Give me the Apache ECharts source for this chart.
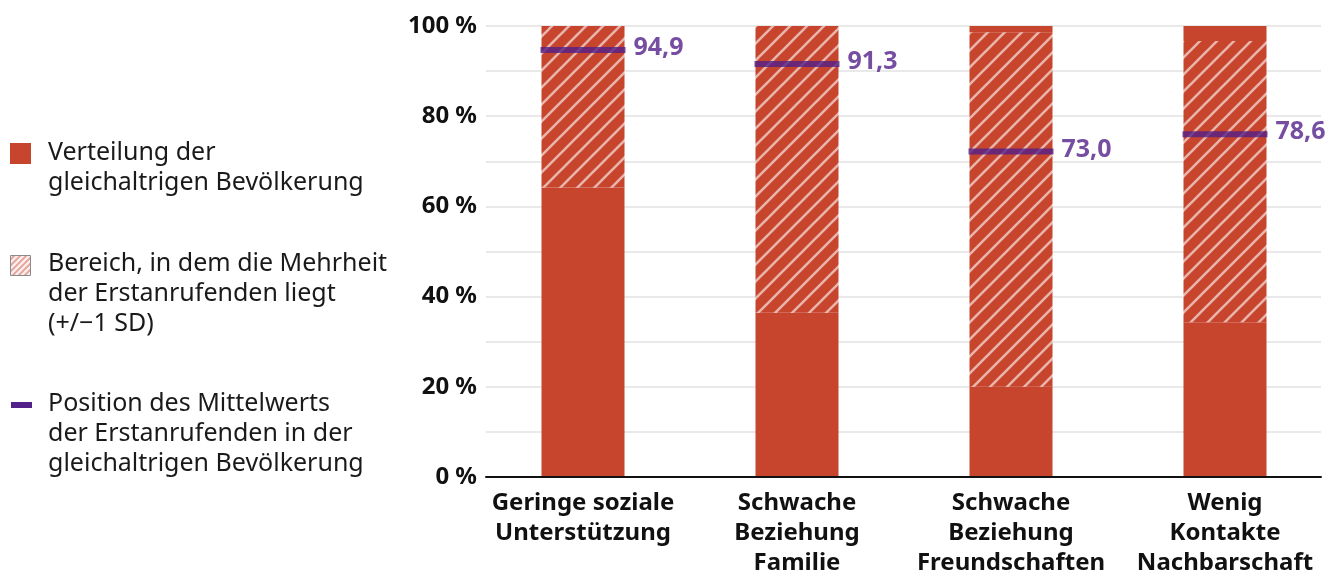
<!DOCTYPE html>
<html>
<head>
<meta charset="utf-8">
<script src="https://cdn.jsdelivr.net/npm/echarts@6/dist/echarts.min.js"></script>
<style>
body{margin:0;background:#fff}
#chart{width:1340px;height:578px}
</style>
</head>
<body>
<div id="chart"></div>
<script>
// Daten
var categories = ['Geringe soziale\nUnterstützung', 'Schwache\nBeziehung\nFamilie', 'Schwache\nBeziehung\nFreundschaften', 'Wenig\nKontakte\nNachbarschaft']
var sdLower = [64.2, 36.4, 20.0, 34.3]   // untere Grenze -1 SD
var sdUpper = [100, 100, 98.6, 96.7]     // obere Grenze +1 SD
var meanValues = [94.9, 91.3, 73.0, 78.6] // Beschriftung
var meanMarkPos = [94.7, 91.6, 72.2, 76.0] // wo der Strich in der Vorlage tatsaechlich sitzt
var legendTexts = [
  'Verteilung der\ngleichaltrigen Bevölkerung',
  'Bereich, in dem die Mehrheit\nder Erstanrufenden liegt\n(+/\u22121 SD)',
  'Position des Mittelwerts\nder Erstanrufenden in der\ngleichaltrigen Bevölkerung'
]

var RED = '#c7442d'
var PURPLE = '#52218a'
var FONT = '"Noto Sans", sans-serif'

// Schraffur fuer die Balken
function makeHatch(size, bg, stroke, lw) {
  var c = document.createElement('canvas')
  c.width = size; c.height = size
  var ctx = c.getContext('2d')
  if (bg) { ctx.fillStyle = bg; ctx.fillRect(0, 0, size, size) }
  ctx.strokeStyle = stroke
  ctx.lineWidth = lw
  ctx.beginPath()
  ctx.moveTo(0, size); ctx.lineTo(size, 0)
  ctx.moveTo(-size / 2, size / 2); ctx.lineTo(size / 2, -size / 2)
  ctx.moveTo(size / 2, size * 1.5); ctx.lineTo(size * 1.5, size / 2)
  ctx.stroke()
  return c
}
var barHatch = makeHatch(17, RED, 'rgba(255,255,255,0.6)', 2.6)
var iconHatch = makeHatch(6, '#fbeeee', 'rgba(199,68,45,0.45)', 1.8)

// gestapelte Werte: unten rot, Mitte schraffiert, oben rot
var baseData = [], hatchData = [], topData = [], meanData = []
for (var i = 0; i < categories.length; i++) {
  baseData.push(sdLower[i])
  hatchData.push(+(sdUpper[i] - sdLower[i]).toFixed(1))
  topData.push(+(100 - sdUpper[i]).toFixed(1))
  meanData.push({ value: meanMarkPos[i], label: { formatter: meanValues[i].toFixed(1).replace('.', ',') } })
}

var myChart = echarts.init(document.getElementById('chart'))

var legendTops = [138, 249, 389]
var graphics = [
  { type: 'rect', shape: { x: 10, y: 143, width: 21, height: 21 }, style: { fill: RED } },
  { type: 'rect', shape: { x: 10.5, y: 255.5, width: 20, height: 20 }, style: { fill: { image: iconHatch, repeat: 'repeat' }, stroke: '#8a8a8a', lineWidth: 1 } },
  { type: 'rect', shape: { x: 11, y: 402, width: 21, height: 6 }, style: { fill: PURPLE } }
]
for (var k = 0; k < legendTexts.length; k++) {
  graphics.push({
    type: 'text', left: 48, top: legendTops[k],
    style: { text: legendTexts[k], fontSize: 25, fontFamily: FONT, lineHeight: 30, fill: '#1a1a1a' }
  })
}

var option = {
  animation: false,
  grid: [
    // Achsen und Hilfslinien
    { left: 486, right: 19, top: 26, bottom: 101 },
    // Balken
    { left: 476, right: 8, top: 26, bottom: 101 }
  ],
  xAxis: [
    {
      gridIndex: 0, type: 'value', min: 0, max: 1,
      axisLine: { show: true, lineStyle: { color: '#111', width: 2 } },
      axisTick: { show: false }, axisLabel: { show: false }, splitLine: { show: false }, z: 10
    },
    {
      gridIndex: 1, type: 'category', data: categories,
      axisLine: { show: false }, axisTick: { show: false },
      axisLabel: {
        margin: 11, fontSize: 24, fontWeight: 'bold', fontFamily: FONT,
        color: '#111', lineHeight: 30, interval: 0
      }
    }
  ],
  yAxis: [
    {
      gridIndex: 0, type: 'value', min: 0, max: 100, interval: 10,
      axisLine: { show: false }, axisTick: { show: false },
      axisLabel: {
        margin: 9, fontSize: 24, fontWeight: 'bold', fontFamily: FONT, color: '#111',
        formatter: function (v) { return v % 20 === 0 ? v + ' %' : '' }
      },
      splitLine: { lineStyle: { color: '#e2e2e2', width: 1.5 } }
    },
    { gridIndex: 1, type: 'value', min: 0, max: 100, show: false }
  ],
  graphic: graphics,
  series: [
    {
      name: 'Verteilung', type: 'bar', stack: 'v', xAxisIndex: 1, yAxisIndex: 1,
      barWidth: 83, data: baseData, itemStyle: { color: RED }
    },
    {
      name: 'Bereich', type: 'bar', stack: 'v', xAxisIndex: 1, yAxisIndex: 1,
      barWidth: 83, data: hatchData, itemStyle: { color: { image: barHatch, repeat: 'repeat' } }
    },
    {
      name: 'Verteilung oben', type: 'bar', stack: 'v', xAxisIndex: 1, yAxisIndex: 1,
      barWidth: 83, data: topData, itemStyle: { color: RED }
    },
    {
      name: 'Mittelwert', type: 'scatter', xAxisIndex: 1, yAxisIndex: 1,
      symbol: 'rect', symbolSize: [85, 6], z: 5,
      itemStyle: { color: PURPLE },
      data: meanData,
      label: {
        show: true, position: 'right', distance: 8, offset: [0, -2],
        fontSize: 25, fontWeight: 'bold', fontFamily: FONT, color: PURPLE
      }
    }
  ]
}
myChart.setOption(option)
</script>
</body>
</html>
